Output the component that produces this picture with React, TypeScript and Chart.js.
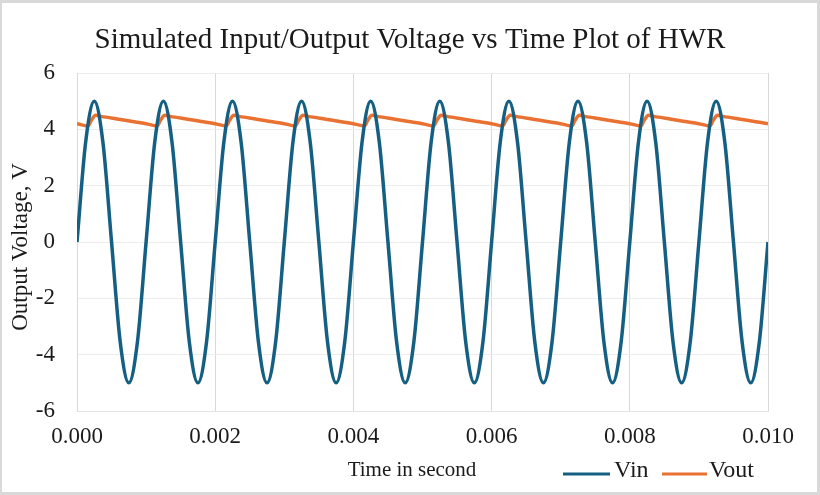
import { useEffect, useRef } from "react";
import { Chart, registerables } from "chart.js";

Chart.register(...registerables);

const FONT = '"Liberation Serif", "Times New Roman", serif';

const chartTitle = "Simulated Input/Output Voltage vs Time Plot of HWR";
const xAxisTitle = "Time in second";
const yAxisTitle = "Output Voltage, V";
const seriesNames = ["Vin", "Vout"];
const seriesColors = ["#156082", "#E97132"];

const xTicks = [0, 0.002, 0.004, 0.006, 0.008, 0.01];
const yTicks = [-6, -4, -2, 0, 2, 4, 6];

// Vin: time (s) and voltage (V)
const vinTime = [
  0, 0.000125, 0.00025, 0.000375, 0.0005, 0.000625, 0.00075, 0.000875,
  0.001, 0.001125, 0.00125, 0.001375, 0.0015, 0.001625, 0.00175, 0.001875,
  0.002, 0.002125, 0.00225, 0.002375, 0.0025, 0.002625, 0.00275, 0.002875,
  0.003, 0.003125, 0.00325, 0.003375, 0.0035, 0.003625, 0.00375, 0.003875,
  0.004, 0.004125, 0.00425, 0.004375, 0.0045, 0.004625, 0.00475, 0.004875,
  0.005, 0.005125, 0.00525, 0.005375, 0.0055, 0.005625, 0.00575, 0.005875,
  0.006, 0.006125, 0.00625, 0.006375, 0.0065, 0.006625, 0.00675, 0.006875,
  0.007, 0.007125, 0.00725, 0.007375, 0.0075, 0.007625, 0.00775, 0.007875,
  0.008, 0.008125, 0.00825, 0.008375, 0.0085, 0.008625, 0.00875, 0.008875,
  0.009, 0.009125, 0.00925, 0.009375, 0.0095, 0.009625, 0.00975, 0.009875,
  0.01,
];
const vinValues = [
  0, 3.54, 5, 3.54, 0, -3.54, -5, -3.54,
  0, 3.54, 5, 3.54, 0, -3.54, -5, -3.54,
  0, 3.54, 5, 3.54, 0, -3.54, -5, -3.54,
  0, 3.54, 5, 3.54, 0, -3.54, -5, -3.54,
  0, 3.54, 5, 3.54, 0, -3.54, -5, -3.54,
  0, 3.54, 5, 3.54, 0, -3.54, -5, -3.54,
  0, 3.54, 5, 3.54, 0, -3.54, -5, -3.54,
  0, 3.54, 5, 3.54, 0, -3.54, -5, -3.54,
  0, 3.54, 5, 3.54, 0, -3.54, -5, -3.54,
  0, 3.54, 5, 3.54, 0, -3.54, -5, -3.54,
  0,
];

// Vout: time (s) and voltage (V)
const voutTime = [
  0, 0.00016, 0.00021, 0.00027, 0.00035, 0.0006, 0.0008,
  0.001, 0.00116, 0.00121, 0.00127, 0.00135, 0.0016, 0.0018,
  0.002, 0.00216, 0.00221, 0.00227, 0.00235, 0.0026, 0.0028,
  0.003, 0.00316, 0.00321, 0.00327, 0.00335, 0.0036, 0.0038,
  0.004, 0.00416, 0.00421, 0.00427, 0.00435, 0.0046, 0.0048,
  0.005, 0.00516, 0.00521, 0.00527, 0.00535, 0.0056, 0.0058,
  0.006, 0.00616, 0.00621, 0.00627, 0.00635, 0.0066, 0.0068,
  0.007, 0.00716, 0.00721, 0.00727, 0.00735, 0.0076, 0.0078,
  0.008, 0.00816, 0.00821, 0.00827, 0.00835, 0.0086, 0.0088,
  0.009, 0.00916, 0.00921, 0.00927, 0.00935, 0.0096, 0.0098,
  0.01,
];
const voutValues = [
  4.2, 4.12, 4.33, 4.5, 4.46, 4.36, 4.28,
  4.2, 4.12, 4.33, 4.5, 4.46, 4.36, 4.28,
  4.2, 4.12, 4.33, 4.5, 4.46, 4.36, 4.28,
  4.2, 4.12, 4.33, 4.5, 4.46, 4.36, 4.28,
  4.2, 4.12, 4.33, 4.5, 4.46, 4.36, 4.28,
  4.2, 4.12, 4.33, 4.5, 4.46, 4.36, 4.28,
  4.2, 4.12, 4.33, 4.5, 4.46, 4.36, 4.28,
  4.2, 4.12, 4.33, 4.5, 4.46, 4.36, 4.28,
  4.2, 4.12, 4.33, 4.5, 4.46, 4.36, 4.28,
  4.2, 4.12, 4.33, 4.5, 4.46, 4.36, 4.28,
  4.2,
];

const decorPlugin = {
  id: "decor",
  beforeDraw(chart: any) {
    const { ctx, width, height } = chart;
    ctx.save();
    ctx.fillStyle = "#d9d9d9";
    ctx.fillRect(0, 0, width, height);
    ctx.fillStyle = "#ffffff";
    ctx.fillRect(2, 3, 815, 489);
    ctx.restore();
  },
  afterDraw(chart: any) {
    const { ctx } = chart;
    ctx.save();
    ctx.fillStyle = "#1a1a1a";
    ctx.textAlign = "center";
    ctx.textBaseline = "middle";
    ctx.font = `29px ${FONT}`;
    ctx.fillText(chartTitle, 410, 40);

    ctx.font = `21px ${FONT}`;
    ctx.fillText(xAxisTitle, 412, 470);

    ctx.font = `23px ${FONT}`;
    ctx.save();
    ctx.translate(21, 247);
    ctx.rotate(-Math.PI / 2);
    ctx.fillText(yAxisTitle, 0, 0);
    ctx.restore();

    // legend
    ctx.font = `24px ${FONT}`;
    const items = [
      { name: seriesNames[0], color: seriesColors[0], x0: 563, x1: 610, tx: 614 },
      { name: seriesNames[1], color: seriesColors[1], x0: 662, x1: 707, tx: 709 },
    ];
    ctx.textAlign = "left";
    for (const it of items) {
      ctx.strokeStyle = it.color;
      ctx.lineWidth = 3;
      ctx.beginPath();
      ctx.moveTo(it.x0, 474);
      ctx.lineTo(it.x1, 474);
      ctx.stroke();
      ctx.fillStyle = "#1a1a1a";
      ctx.fillText(it.name, it.tx, 471);
    }
    ctx.restore();
  },
};

export default function App() {
  const ref = useRef<HTMLCanvasElement>(null);
  useEffect(() => {
    document.body.style.margin = "0";
    const vin = vinTime.map((t, i) => ({ x: t, y: vinValues[i] }));
    const vout = voutTime.map((t, i) => ({ x: t, y: voutValues[i] }));
    const chart = new Chart(ref.current!, {
      type: "line",
      data: {
        datasets: [
          {
            label: seriesNames[0],
            data: vin,
            borderColor: seriesColors[0],
            borderWidth: 3.5,
            pointRadius: 0,
            cubicInterpolationMode: "monotone",
          },
          {
            label: seriesNames[1],
            data: vout,
            borderColor: seriesColors[1],
            borderWidth: 3.5,
            pointRadius: 0,
            cubicInterpolationMode: "monotone",
          },
        ],
      },
      options: {
        responsive: false,
        animation: false,
        devicePixelRatio: 1,
        layout: { padding: { left: 0, right: 52, top: 73, bottom: 0 } },
        plugins: {
          legend: { display: false },
          title: { display: false },
          tooltip: { enabled: false },
        },
        scales: {
          x: {
            type: "linear",
            min: 0,
            max: 0.01,
            afterBuildTicks: (scale: any) => {
              scale.ticks = xTicks.map((v) => ({ value: v }));
            },
            afterFit: (scale: any) => {
              scale.height = 84;
            },
            ticks: {
              padding: 12,
              color: "#1a1a1a",
              font: { family: FONT, size: 23 },
              maxRotation: 0,
              callback: (v: any) => Number(v).toFixed(3),
            },
            grid: { color: "#d9d9d9", lineWidth: 1, drawTicks: false },
            border: { display: true, color: "#e3e3e3" },
          },
          y: {
            min: -6,
            max: 6,
            afterBuildTicks: (scale: any) => {
              scale.ticks = yTicks.map((v) => ({ value: v }));
            },
            afterFit: (scale: any) => {
              scale.width = 77;
            },
            ticks: {
              padding: 22,
              color: "#1a1a1a",
              font: { family: FONT, size: 23 },
              callback: (v: any) => String(v),
            },
            grid: { color: "#ececec", lineWidth: 1, drawTicks: false },
            border: { display: true, color: "#d9d9d9" },
          },
        },
      },
      plugins: [decorPlugin],
    } as any);
    return () => chart.destroy();
  }, []);
  return (
    <canvas
      ref={ref}
      width={820}
      height={495}
      style={{ display: "block", width: 820, height: 495 }}
    />
  );
}
